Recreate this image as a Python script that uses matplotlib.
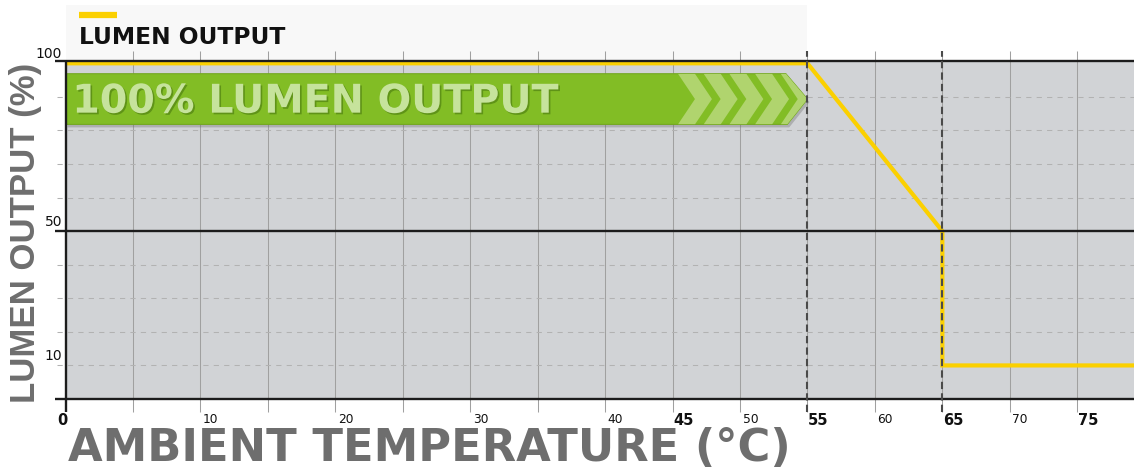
import numpy as np
import matplotlib.pyplot as plt
from matplotlib.patches import Polygon, Rectangle
from matplotlib import patheffects as pe
from matplotlib.transforms import ScaledTranslation

# derating curve
temps = [0, 55, 65, 65, 80]
lumen = [100, 100, 50, 10, 10]

# axes / grid
grid_x = np.arange(5, 80, 5)
derate_x = [55, 65]
solid_y = [0, 50]
dashed_y = [10, 20, 30, 40, 60, 70, 80, 90]
xtick_vals = [0, 10, 20, 30, 40, 45, 50, 55, 60, 65, 70, 75]
xtick_bold = [0, 45, 55, 65, 75]
ytick_vals = [100, 50, 10]

YELLOW = '#fbd000'
GREEN = '#82bd25'
GREY_TXT = '#6e6e6e'

W, H = 1134, 472
fig = plt.figure(figsize=(W / 100, H / 100), dpi=100)
fig.patch.set_facecolor('white')
ax = fig.add_axes([65.5 / W, 73 / H, (W - 65.5) / W, 337.7 / H])
ax.set_xlim(0, (W - 65.5) / 13.49)
ax.set_ylim(0, 100.6)
ax.set_facecolor('#d1d3d6')
for s in ax.spines.values():
    s.set_visible(False)
ax.set_xticks([])
ax.set_yticks([])

xt = ax.get_xaxis_transform()
yt = ax.get_yaxis_transform()

def px(dx, dy):
    return ScaledTranslation(dx / 100, dy / 100, fig.dpi_scale_trans)

# light box behind legend
ax.add_patch(Rectangle((0, 1), 55, 0.1667, transform=xt, facecolor='#f8f8f8',
                       edgecolor='none', clip_on=False, zorder=0))

# grid
ax.vlines(grid_x, -0.0385, 1.03, transform=xt, colors='#a0a0a0', lw=0.75,
          clip_on=False, zorder=1)
ax.hlines(dashed_y, -0.008, 1, transform=yt, colors='#b2b2b2', lw=0.75,
          linestyles=(0, (5, 5)), clip_on=False, zorder=1)
ax.hlines(solid_y, -0.0095, 1, transform=yt, colors='#1c1c1c', lw=1.7,
          clip_on=False, zorder=6)
ax.hlines([1], -0.0095, 1, transform=ax.transAxes, colors='#1c1c1c', lw=1.7,
          clip_on=False, zorder=6)
ax.vlines([0], -0.0385, 1.005, transform=xt, colors='#1c1c1c', lw=1.7,
          clip_on=False, zorder=6)

# green banner
top, bot, mid = 96.9, 81.8, 89.35
shoulder, tip = 53.4, 55.0
banner_pts = [(0, bot), (0, top), (shoulder, top), (tip, mid), (shoulder + 0.1, bot)]
shadow = Polygon(banner_pts, closed=True, facecolor='#6a6a6a', alpha=0.35,
                 edgecolor='none', zorder=2, transform=ax.transData + px(2, -3))
ax.add_patch(shadow)
banner = Polygon(banner_pts, closed=True, facecolor=GREEN, edgecolor='#74a822',
                 lw=0.8, zorder=3)
ax.add_patch(banner)
step, w, d = 1.905, 1.26, 1.26
for k in range(5):
    x0 = 45.4 + k * step
    chev = Polygon([(x0, top), (x0 + w, top), (x0 + w + d, mid), (x0 + w, bot),
                    (x0, bot), (x0 + d, mid)], closed=True,
                   facecolor='#b0d46e', edgecolor='none', zorder=3)
    ax.add_patch(chev)
    chev.set_clip_path(banner)
ax.text(0.5, 85.3, '100% LUMEN OUTPUT', fontsize=28.5, fontweight='bold',
        color='#c6e39c', ha='left', va='baseline', zorder=4,
        path_effects=[pe.SimplePatchShadow(offset=(1.2, -1.2),
                                           shadow_rgbFace='#3d6b0a', alpha=0.5),
                      pe.Normal()])

# curve
ax.plot(temps, lumen, color=YELLOW, lw=3, zorder=5, solid_joinstyle='miter',
        label='LUMEN OUTPUT')
ax.vlines(derate_x, -0.0385, 1.03, transform=xt, colors='#4a4a4a', lw=1.5,
          linestyles=(0, (3.5, 2)), clip_on=False, zorder=7)

# legend (handle above text)
ax.plot([1.0, 3.8], [1.137, 1.137], transform=xt, color=YELLOW, lw=4.5,
        solid_capstyle='butt', clip_on=False)
ax.text(1.0, 1.05, 'LUMEN OUTPUT', transform=xt, fontsize=16.8,
        fontweight='bold', color='#111111', ha='left', va='baseline')

# tick labels
for v in xtick_vals:
    bold = v in xtick_bold
    if v == 0:
        ax.text(v, -0.042, str(v), transform=xt + px(-3, 0), ha='center',
                va='top', fontsize=10.5, fontweight='bold', color='#111111')
    else:
        ax.text(v, -0.042, str(v), transform=xt + px(0.5 if bold else 2.5, 0),
                ha='left', va='top', fontsize=10.5 if bold else 8.8,
                fontweight='bold' if bold else 'normal', color='#111111')
for v in ytick_vals:
    ax.text(0, v, str(v), transform=yt + px(-3.5, 5), ha='right',
            va='baseline', fontsize=10, color='#111111')

# axis titles
fig.text(68 / W, 11 / H, 'AMBIENT TEMPERATURE (°C)', fontsize=32.2,
         fontweight='bold', color=GREY_TXT, ha='left', va='baseline')
fig.text(35 / W, (H - 403) / H, 'LUMEN OUTPUT (%)', fontsize=25,
         fontweight='bold', family=['Liberation Sans', 'DejaVu Sans'],
         color=GREY_TXT, rotation=90, rotation_mode='anchor',
         ha='left', va='baseline')

fig.savefig('out.png', dpi=100)
